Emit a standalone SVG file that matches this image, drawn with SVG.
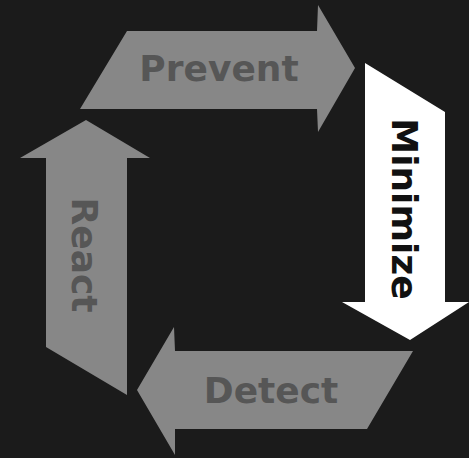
<svg xmlns="http://www.w3.org/2000/svg" width="469" height="458" viewBox="0 0 469 458">
  <style>
    .step { fill: #878787; }
    .step.active { fill: #ffffff; }
    .label { font-family: "DejaVu Sans", "Liberation Sans", sans-serif; font-weight: bold; font-size: 36px; fill: #565656; text-anchor: middle; }
    .active-label { fill: #111111; }
  </style>
  <rect width="469" height="458" fill="#1b1b1b"/>

  <g id="prevent">
    <polygon class="step" points="127,31 317,31 318,5 355,68 318,132 317,109 80,109"/>
    <text class="label" x="219" y="81">Prevent</text>
  </g>

  <g id="minimize">
    <polygon class="step active" points="365,63 445,112 445,302 469,302 410,340 342,302 365,302"/>
    <text class="label active-label" transform="translate(392,209) rotate(90)" x="0" y="0">Minimize</text>
  </g>

  <g id="detect">
    <polygon class="step" points="413,351 175,351 174,327 137,390 175,455 175,429 367,429"/>
    <text class="label" x="271" y="403">Detect</text>
  </g>

  <g id="react">
    <polygon class="step" points="86,120 150,158 127,158 127,395 46,347 46,158 20,158"/>
    <text class="label" transform="translate(72,255) rotate(90)" x="0" y="0">React</text>
  </g>

  <g id="connectors"></g>
</svg>
